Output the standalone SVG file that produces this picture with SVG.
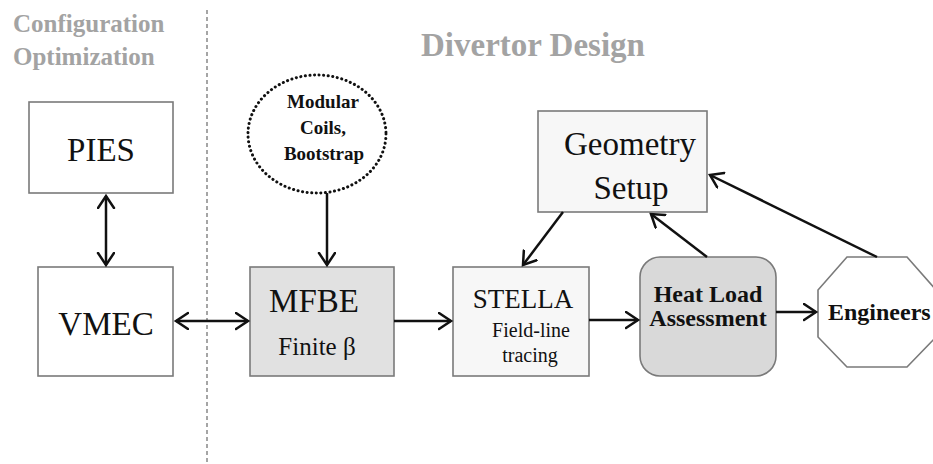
<svg xmlns="http://www.w3.org/2000/svg" width="933" height="464" viewBox="0 0 933 464">
<defs>
<marker id="arr" markerUnits="userSpaceOnUse" markerWidth="16" markerHeight="20" refX="13" refY="9" orient="auto-start-reverse" viewBox="0 0 16 20">
<path d="M1,1 L13,9 L1,17" fill="none" stroke="#111" stroke-width="2.5" stroke-linecap="round" stroke-linejoin="miter"/>
</marker>
<style>
.box{stroke:#7a7a7a;stroke-width:1.6}
.ser{font-family:"Liberation Serif","Times New Roman",serif;fill:#111}
.hd{font-family:"Liberation Serif","Times New Roman",serif;font-weight:bold;fill:#a3a3a3}
.b{font-weight:bold}
.c{stroke:#111;stroke-width:2.5;fill:none;marker-end:url(#arr)}
</style>
</defs>
<rect width="933" height="464" fill="#fff"/>
<g id="headings">
<text class="hd" x="13" y="32" font-size="25">Configuration</text>
<text class="hd" x="13" y="65" font-size="25">Optimization</text>
<text class="hd" x="421" y="56" font-size="33">Divertor Design</text>
</g>
<line id="divider" x1="207" y1="10" x2="207" y2="464" stroke="#888" stroke-width="1.5" stroke-dasharray="4,3"/>
<g id="pies"><rect class="box" x="29" y="102" width="144" height="91" fill="#fff"/><text class="ser" x="101" y="161" font-size="33" text-anchor="middle">PIES</text></g>
<g id="vmec"><rect class="box" x="38" y="267" width="135" height="109" fill="#fff"/><text class="ser" x="106" y="335" font-size="33" text-anchor="middle">VMEC</text></g>
<g id="coils"><ellipse cx="317" cy="134" rx="69" ry="59" fill="#fff" stroke="#111" stroke-width="3" stroke-dasharray="0.1,4.5" stroke-linecap="round"/>
<text class="ser b" x="323" y="108" font-size="19" text-anchor="middle">Modular</text>
<text class="ser b" x="323" y="134" font-size="19" text-anchor="middle">Coils,</text>
<text class="ser b" x="324" y="160" font-size="19" text-anchor="middle">Bootstrap</text></g>
<g id="mfbe"><rect class="box" x="250" y="267" width="144" height="109" fill="#e1e1e1"/>
<text class="ser" x="314" y="312" font-size="33" text-anchor="middle">MFBE</text>
<text class="ser" x="317" y="355" font-size="25" text-anchor="middle" fill="#222">Finite β</text></g>
<g id="stella"><rect class="box" x="453" y="267" width="136" height="109" fill="#f7f7f7"/>
<text class="ser" x="523" y="308" font-size="27" text-anchor="middle">STELLA</text>
<text class="ser" x="531" y="337" font-size="20" text-anchor="middle" fill="#333">Field-line</text>
<text class="ser" x="530" y="362" font-size="20" text-anchor="middle" fill="#333">tracing</text></g>
<g id="geometry"><rect class="box" x="538" y="111" width="169" height="101" fill="#f7f7f7"/>
<text class="ser" x="630" y="155" font-size="33" text-anchor="middle">Geometry</text>
<text class="ser" x="631" y="199" font-size="33" text-anchor="middle">Setup</text></g>
<g id="heatload"><rect class="box" x="640" y="257" width="136" height="119" rx="20" fill="#d9d9d9"/>
<text class="ser b" x="708" y="302" font-size="24" text-anchor="middle">Heat Load</text>
<text class="ser b" x="708" y="326" font-size="24" text-anchor="middle">Assessment</text></g>
<g id="engineers"><polygon class="box" points="847,257 907,257 936,290 936,337 907,367 847,367 818,337 818,290" fill="#fff"/>
<text class="ser b" x="828" y="320" font-size="24">Engineers</text></g>
<g id="connectors">
<line class="c" x1="106" y1="196" x2="106" y2="265" marker-start="url(#arr)"/>
<line class="c" x1="176" y1="321" x2="248" y2="321" marker-start="url(#arr)"/>
<line class="c" x1="327" y1="193" x2="327" y2="265"/>
<line class="c" x1="394" y1="321" x2="451" y2="321"/>
<line class="c" x1="563" y1="212" x2="523" y2="265"/>
<line class="c" x1="589" y1="320" x2="638" y2="320"/>
<line class="c" x1="707" y1="257" x2="651" y2="214"/>
<line class="c" x1="776" y1="312" x2="816" y2="312"/>
<line class="c" x1="877" y1="257" x2="710" y2="175"/>
</g>
</svg>
